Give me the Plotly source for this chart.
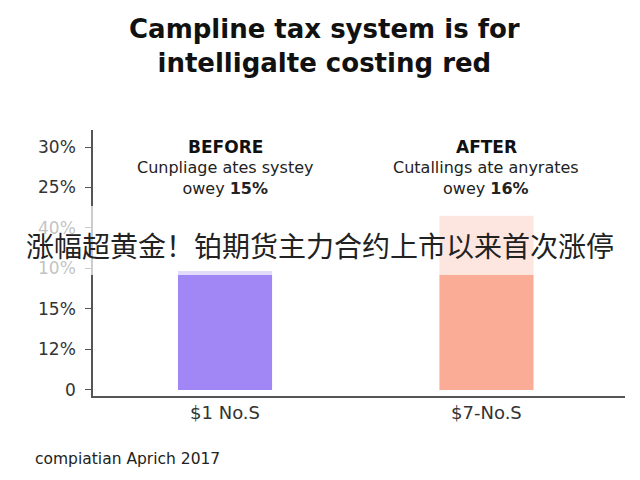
import plotly.graph_objects as go

# Data
categories = ["$1 No.S", "$7-No.S"]
bar_values = [2.94, 4.30]          # heights on the (index) y axis
bar_colors = ["#a087f5", "#faac96"]
y_tick_vals = [0, 1, 2, 3, 4, 5, 6]
y_tick_text = ["0", "12%", "15%", "10%", "40%", "25%", "30%"]

panel_titles = ["BEFORE", "AFTER"]
panel_lines = ["Cunpliage ates systey", "Cutallings ate anyrates"]
panel_pcts = ["15%", "16%"]

title_text = "Campline tax system is for<br>intelligalte costing red"
overlay_text = "涨幅超黄金！铂期货主力合约上市以来首次涨停"
footer_text = "compiatian Aprich 2017"

FONT = "DejaVu Sans"

fig = go.Figure()
fig.add_trace(go.Bar(
    x=[0, 1],
    y=bar_values,
    marker=dict(color=bar_colors, line=dict(width=0)),
    width=0.36,
    showlegend=False,
))

fig.update_layout(
    width=640, height=480,
    margin=dict(l=85, r=23, t=122, b=92),
    paper_bgcolor="white", plot_bgcolor="white",
    font=dict(family=FONT, color="#333333", size=15),
)

fig.update_xaxes(
    range=[-0.505, 1.53],
    tickvals=[0, 1], ticktext=categories,
    showline=True, linecolor="#555555", linewidth=1.5,
    ticks="", showgrid=False, zeroline=False,
    tickfont=dict(size=18, color="#333333"),
)
fig.update_yaxes(
    range=[-0.15, 6.42],
    tickvals=y_tick_vals, ticktext=y_tick_text,
    showline=True, linecolor="#555555", linewidth=1.5,
    ticks="outside", ticklen=6, tickcolor="#555555",
    ticklabelstandoff=6,
    showgrid=False, zeroline=False,
    tickfont=dict(size=17, color="#333333"),
)

# title as an annotation for exact placement
fig.add_annotation(x=0.436, y=1.316, xref="paper", yref="paper",
                   text="<b>" + title_text + "</b>", showarrow=False,
                   yanchor="middle",
                   font=dict(size=26, color="#111111"))

for i in range(2):
    fig.add_annotation(x=i, y=0.936, xref="x", yref="paper", yanchor="middle",
                       text="<b>" + panel_titles[i] + "</b>", showarrow=False,
                       font=dict(size=17, color="#111111"))
    fig.add_annotation(x=i, y=0.818, xref="x", yref="paper", yanchor="middle",
                       text=panel_lines[i] + "<br>owey <b>" + panel_pcts[i] + "</b>",
                       showarrow=False, font=dict(size=16, color="#222222"))

# translucent white band behind the overlay caption
fig.add_shape(type="rect", xref="paper", yref="paper",
              x0=-0.18, x1=1.05, y0=0.455, y1=0.714,
              fillcolor="white", opacity=0.7, line=dict(width=0), layer="above")

fig.add_annotation(x=0.4267, y=0.568, xref="paper", yref="paper", yanchor="middle",
                   text=overlay_text, showarrow=False,
                   font=dict(family="Noto Sans CJK SC", size=28, color="#222222"))

fig.add_annotation(x=-0.113, y=-0.237, xref="paper", yref="paper",
                   xanchor="left", yanchor="middle", text=footer_text, showarrow=False,
                   font=dict(size=15.5, color="#222222"))

fig.write_html("out.html")
